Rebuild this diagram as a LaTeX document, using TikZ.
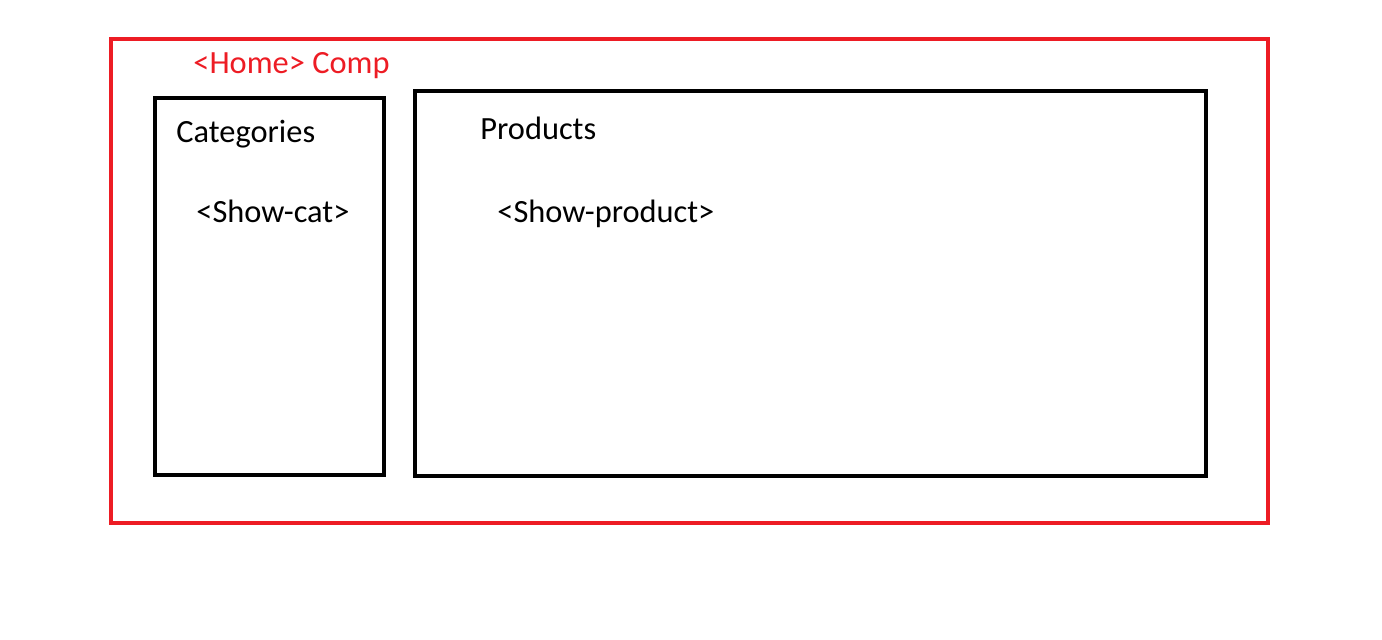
\documentclass[tikz,border=0pt]{standalone}
\usepackage{fontspec}
\setmainfont{Carlito}
\usepackage{tikz}
\usetikzlibrary{positioning}
\definecolor{homeRed}{HTML}{ED1C24}

\tikzset{
  compbox/.style={draw,line width=2.2pt},
  complabel/.style={anchor=base west,inner sep=0pt,font=\fontsize{16.2}{19}\selectfont},
}

\begin{document}
\begin{tikzpicture}[x=0.5pt,y=-0.5pt]
  \useasboundingbox (0,0) rectangle (1382,640);
  % outer component
  \draw[compbox,homeRed] (111,39) rectangle (1268,523);
  \node[complabel,text=homeRed] (home) at (193,74) {<Home> Comp};
  % child boxes
  \draw[compbox] (155,98) rectangle (384,475);
  \draw[compbox] (415,91) rectangle (1206,476);
  \node[complabel] (cat) at (176,143) {Categories};
  \node[complabel] (showcat) at (196,223) {<Show-cat>};
  \node[complabel] (prod) at (480,140) {Products};
  \node[complabel] (showprod) at (497,223) {<Show-product>};
\end{tikzpicture}
\end{document}
